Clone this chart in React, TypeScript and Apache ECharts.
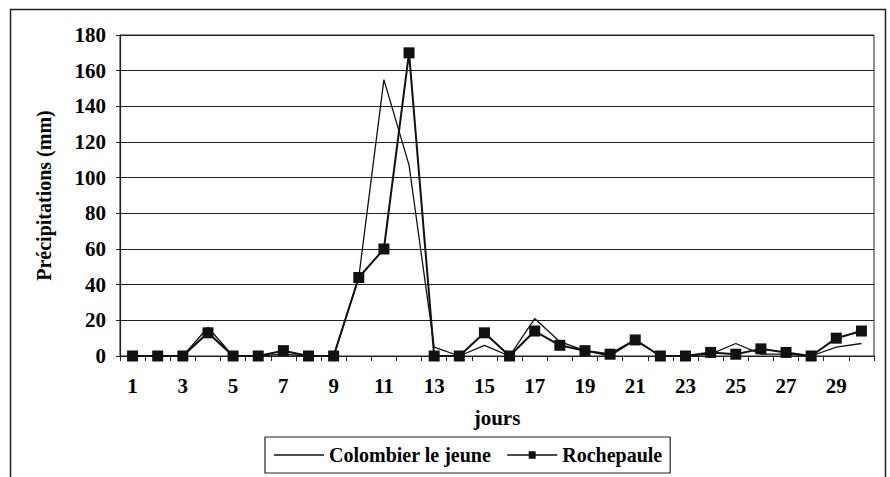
import React, { useEffect, useRef } from "react";
import * as echarts from "echarts";

const days = Array.from({ length: 30 }, (_, i) => String(i + 1));
const colombier = [0, 0, 0, 16, 0, 0, 1, 0, 0, 44, 155, 107, 5, 0, 6, 0, 21, 8, 3, 0, 9, 0, 0, 1, 7, 1, 1, 0, 5, 7];
const rochepaule = [0, 0, 0, 13, 0, 0, 3, 0, 0, 44, 60, 170, 0, 0, 13, 0, 14, 6, 3, 1, 9, 0, 0, 2, 1, 4, 2, 0, 10, 14];
const seriesNames = ["Colombier le jeune", "Rochepaule"];

const FONT = "'Liberation Serif', 'Times New Roman', serif";
const LINE_ICON = "path://M0,4L50,4L50,5.3L0,5.3Z";
const SQUARE_ICON = "path://M0,4L50,4L50,5.3L0,5.3ZM21.5,1L28.5,1L28.5,8.3L21.5,8.3Z";

export default function App() {
  const ref = useRef<HTMLDivElement>(null);
  useEffect(() => {
    if (!ref.current) return;
    const chart = echarts.init(ref.current, null, { renderer: "svg" });
    chart.setOption({
      animation: false,
      backgroundColor: "#fff",
      textStyle: { fontFamily: FONT, color: "#000", fontWeight: "bold" },
      graphic: [
        {
          type: "rect",
          shape: { x: 10.5, y: 9.5, width: 875, height: 475 },
          style: { fill: "none", stroke: "#222", lineWidth: 1.5 },
          silent: true,
        },
      ],
      grid: {
        left: 120,
        top: 35,
        right: 16,
        bottom: 121,
        show: true,
        borderColor: "#222",
        borderWidth: 1,
        backgroundColor: "#fff",
      },
      legend: {
        left: 265,
        top: 437,
        padding: [8, 8, 8, 9],
        borderColor: "#222",
        borderWidth: 1.2,
        itemWidth: 50,
        itemHeight: 9.3,
        itemGap: 16,
        textStyle: { fontFamily: FONT, fontSize: 20, fontWeight: "bold", color: "#000", padding: [0, 0, 0, 0] },
        data: [
          { name: seriesNames[0], icon: LINE_ICON },
          { name: seriesNames[1], icon: SQUARE_ICON },
        ],
      },
      xAxis: {
        type: "category",
        data: days,
        boundaryGap: true,
        name: "jours",
        nameLocation: "middle",
        nameGap: 51,
        nameTextStyle: { fontFamily: FONT, fontSize: 21, fontWeight: "bold", color: "#000" },
        axisLine: { lineStyle: { color: "#222", width: 1.2 } },
        axisTick: { show: true, inside: false, length: 5, interval: 0, lineStyle: { color: "#222" } },
        axisLabel: { interval: 1, margin: 19, fontFamily: FONT, fontSize: 21, fontWeight: "bold", color: "#000" },
        splitLine: { show: false },
      },
      yAxis: {
        type: "value",
        min: 0,
        max: 180,
        interval: 20,
        name: "Précipitations (mm)",
        nameLocation: "middle",
        nameRotate: 90,
        nameGap: 66,
        nameTextStyle: { fontFamily: FONT, fontSize: 20, fontWeight: "bold", color: "#000" },
        axisLine: { show: true, lineStyle: { color: "#222", width: 1.2 } },
        axisTick: { show: true, inside: false, length: 4, lineStyle: { color: "#222" } },
        axisLabel: { margin: 14, fontFamily: FONT, fontSize: 21, fontWeight: "bold", color: "#000" },
        splitLine: { show: true, lineStyle: { color: "#222", width: 1.2 } },
      },
      series: [
        {
          name: seriesNames[0],
          type: "line",
          data: colombier,
          symbol: "none",
          showSymbol: false,
          lineStyle: { color: "#111", width: 1.3 },
          itemStyle: { color: "#111" },
          z: 3,
        },
        {
          name: seriesNames[1],
          type: "line",
          data: rochepaule,
          symbol: "rect",
          symbolSize: 11,
          showSymbol: true,
          lineStyle: { color: "#111", width: 2 },
          itemStyle: { color: "#111" },
          z: 4,
        },
      ],
    });
    return () => chart.dispose();
  }, []);
  return <div ref={ref} style={{ position: "fixed", left: 0, top: 0, width: 890, height: 477 }} />;
}
